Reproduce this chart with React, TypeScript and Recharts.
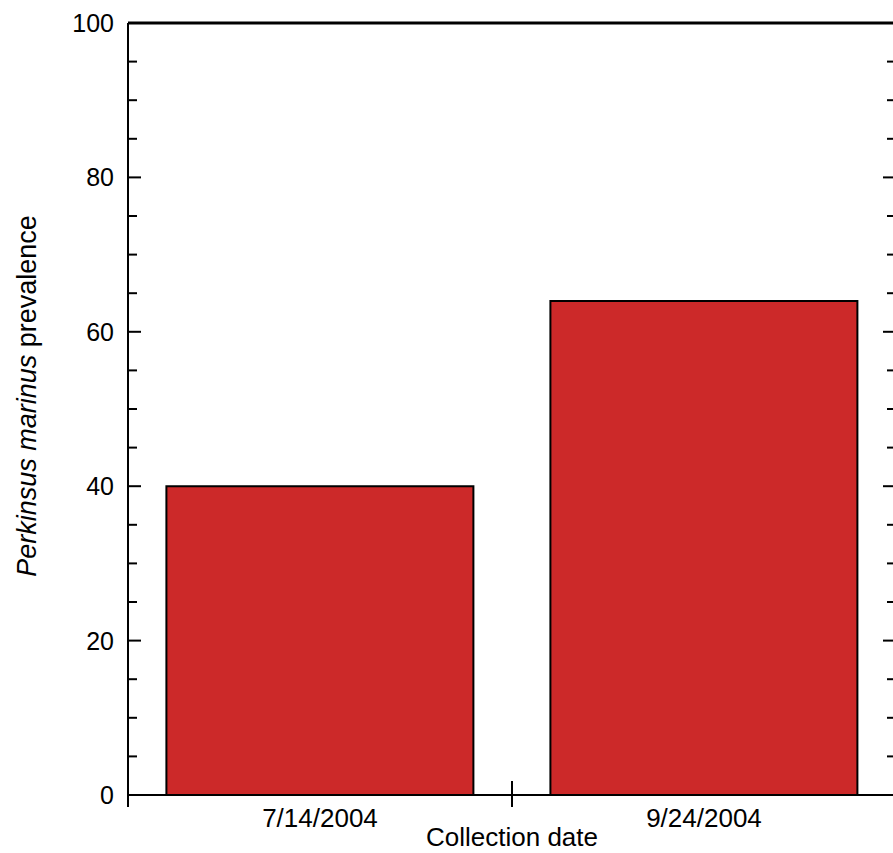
import { BarChart, Bar, XAxis, YAxis } from 'recharts';

// Collection dates and P. marinus prevalence (%)
const dates = ['7/14/2004', '9/24/2004'];
const prevalence = [40, 64];

// y ticks every 5, labels only on multiples of 20
const yTicks = [0, 5, 10, 15, 20, 25, 30, 35, 40, 45, 50, 55, 60, 65, 70, 75, 80, 85, 90, 95, 100];

const data = dates.map((d, i) => ({ date: d, value: prevalence[i] }));

const FONT = '"Liberation Sans", Arial, Helvetica, sans-serif';

const LeftTick = (props: any) => {
  const { x, y, payload } = props;
  const major = payload.value % 20 === 0;
  return (
    <g>
      <line x1={x} x2={x + (major ? 13 : 9)} y1={y} y2={y} stroke="#000" strokeWidth={2} />
      {major && (
        <text x={x - 14} y={y} textAnchor="end" dominantBaseline="central" fontSize={25} fontFamily={FONT} fill="#000">
          {payload.value}
        </text>
      )}
    </g>
  );
};

const RightTick = (props: any) => {
  const { x, y, payload } = props;
  const major = payload.value % 20 === 0;
  return <line x1={x} x2={x - (major ? 13 : 9)} y1={y} y2={y} stroke="#000" strokeWidth={2} />;
};

// date label plus a tick mark on the category boundaries (band edges)
const DateTick = (props: any) => {
  const { x, y, payload } = props;
  const half = payload.offset ?? 0;
  return (
    <g>
      {half > 0 && (
        <>
          <line x1={x - half} x2={x - half} y1={y - 14} y2={y + 12} stroke="#000" strokeWidth={2} />
          <line x1={x + half} x2={x + half} y1={y - 14} y2={y + 12} stroke="#000" strokeWidth={2} />
        </>
      )}
      <text x={x} y={y + 23} textAnchor="middle" dominantBaseline="central" fontSize={26} fontFamily={FONT} fill="#000">
        {payload.value}
      </text>
    </g>
  );
};

const YLabel = (props: any) => {
  const { x, y, height } = props.viewBox;
  const cx = x + 27;
  const cy = y + height / 2 - 13;
  return (
    <text
      x={cx}
      y={cy}
      transform={`rotate(-90, ${cx}, ${cy})`}
      textAnchor="middle"
      dominantBaseline="central"
      fontSize={27}
      fontFamily={FONT}
      fill="#000"
    >
      <tspan fontStyle="italic">Perkinsus marinus</tspan>
      <tspan>{' prevalence'}</tspan>
    </text>
  );
};

const XLabel = (props: any) => {
  const { x, y, width } = props.viewBox;
  return (
    <text x={x + width / 2} y={y + 42} textAnchor="middle" dominantBaseline="central" fontSize={26} fontFamily={FONT} fill="#000">
      Collection date
    </text>
  );
};

const App = () => {
  return (
    <div style={{ position: 'absolute', top: 0, left: 0, width: 893, height: 853, overflow: 'hidden', background: '#fff' }}>
      <BarChart
        width={908}
        height={853}
        data={data}
        margin={{ top: 22, right: 0, left: 0, bottom: 0 }}
        barCategoryGap="10%"
      >
        <XAxis
          xAxisId="cat"
          dataKey="date"
          height={58}
          axisLine={{ stroke: '#000', strokeWidth: 2 }}
          tickLine={false}
          tickSize={0}
          tickMargin={0}
          tick={<DateTick />}
          label={<XLabel />}
        />
        <XAxis
          xAxisId="top"
          orientation="top"
          dataKey="date"
          height={1}
          tick={false}
          tickLine={false}
          axisLine={{ stroke: '#000', strokeWidth: 3 }}
        />
        <YAxis
          yAxisId="left"
          width={128}
          domain={[0, 100]}
          ticks={yTicks}
          interval={0}
          axisLine={{ stroke: '#000', strokeWidth: 2 }}
          tickLine={false}
          tickSize={0}
          tickMargin={0}
          tick={<LeftTick />}
          label={<YLabel />}
        />
        <YAxis
          yAxisId="right"
          orientation="right"
          width={12}
          domain={[0, 100]}
          ticks={yTicks}
          interval={0}
          axisLine={{ stroke: '#000', strokeWidth: 2 }}
          tickLine={false}
          tickSize={0}
          tickMargin={0}
          tick={<RightTick />}
        />
        <Bar
          xAxisId="cat"
          yAxisId="left"
          dataKey="value"
          fill="#CC2929"
          stroke="#000"
          strokeWidth={2}
          isAnimationActive={false}
        />
        {/* invisible twin series so the frame axes (top / right) get drawn */}
        <Bar
          xAxisId="top"
          yAxisId="right"
          dataKey="value"
          fill="none"
          stroke="none"
          legendType="none"
          isAnimationActive={false}
        />
      </BarChart>
    </div>
  );
};

export default App;
